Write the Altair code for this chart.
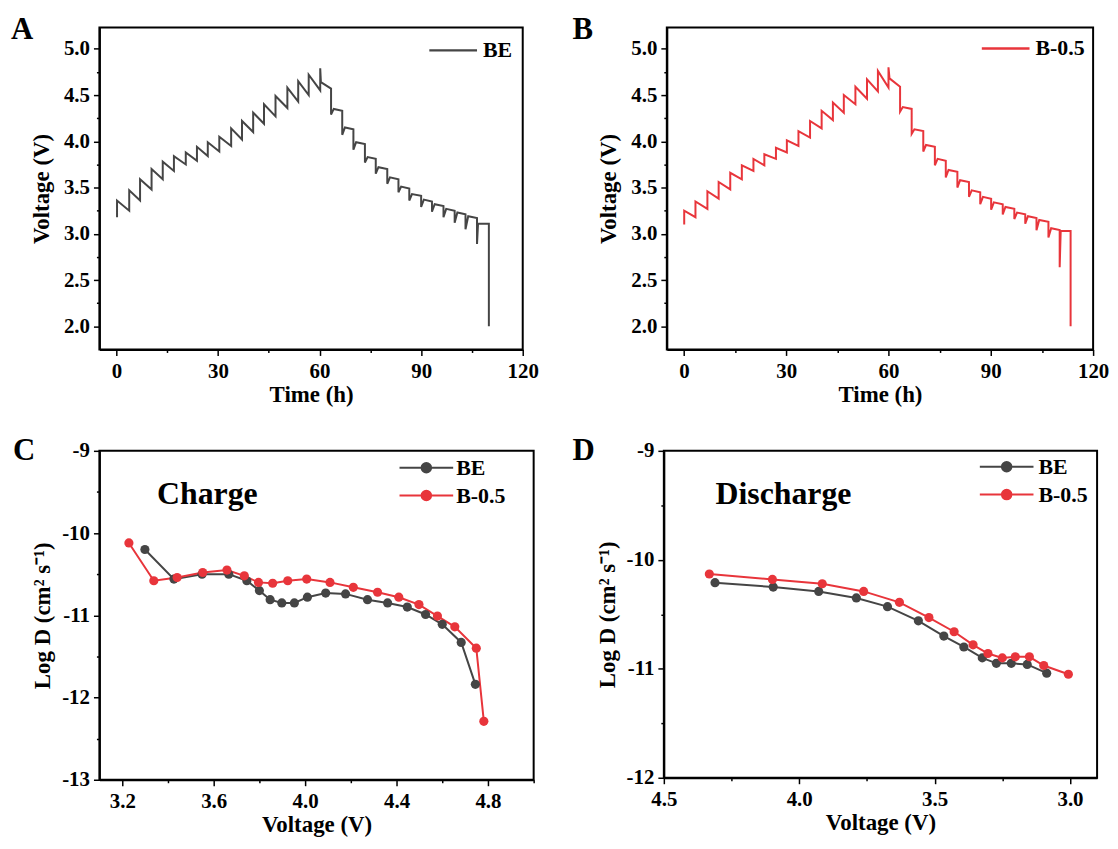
import altair as alt
import pandas as pd

# ---------------- data ----------------
SERIES = ["BE", "B-0.5"]

# Panel A (BE) GITT curve: charge pulses (time, voltage before jump, voltage after jump)
A_charge_t = [0.2, 3.8, 7.0, 10.4, 13.7, 17.0, 20.5, 23.8, 27.0, 30.4, 33.9, 37.1, 40.4, 43.6, 47.0, 50.5, 53.7, 56.8, 60.2]
A_charge_low = [3.18, 3.25, 3.36, 3.48, 3.59, 3.68, 3.75, 3.79, 3.84, 3.89, 3.95, 4.02, 4.10, 4.19, 4.27, 4.36, 4.43, 4.50, 4.55]
A_charge_high = [3.36, 3.47, 3.59, 3.70, 3.78, 3.84, 3.88, 3.94, 3.99, 4.05, 4.14, 4.22, 4.31, 4.40, 4.49, 4.58, 4.65, 4.72, 4.79]
A_rest_t = [60.4, 63.4]
A_rest_v = [4.64, 4.57]
# discharge pulses (time, voltage before drop, voltage after drop) and quick recovery points
A_dis_t = [63.4, 66.7, 70.0, 73.4, 76.6, 80.0, 83.3, 86.5, 90.0, 93.2, 96.6, 99.9, 103.1, 106.5, 110.0]
A_dis_high = [4.57, 4.33, 4.13, 3.97, 3.81, 3.70, 3.59, 3.49, 3.41, 3.35, 3.30, 3.25, 3.21, 3.17, 3.11]
A_dis_low = [4.29, 4.07, 3.91, 3.77, 3.65, 3.54, 3.45, 3.36, 3.29, 3.24, 3.18, 3.12, 3.05, 2.89, 2.00]
A_rec_t = [64.2, 67.5, 70.8, 74.2, 77.4, 80.8, 84.1, 87.3, 90.8, 94.0, 97.4, 100.7, 103.9, 106.8]
A_rec_v = [4.35, 4.15, 3.99, 3.83, 3.72, 3.61, 3.51, 3.43, 3.37, 3.32, 3.27, 3.23, 3.19, 3.11]

# Panel B (B-0.5)
B_charge_t = [0.1, 3.4, 6.9, 10.2, 13.6, 17.0, 20.4, 23.6, 27.0, 30.2, 33.6, 37.0, 40.4, 43.7, 46.9, 50.3, 53.7, 56.9, 60.0]
B_charge_low = [3.10, 3.18, 3.27, 3.38, 3.48, 3.59, 3.68, 3.74, 3.81, 3.88, 3.95, 4.04, 4.14, 4.23, 4.31, 4.40, 4.46, 4.54, 4.58]
B_charge_high = [3.25, 3.35, 3.46, 3.56, 3.66, 3.74, 3.81, 3.86, 3.93, 4.01, 4.11, 4.22, 4.33, 4.42, 4.50, 4.59, 4.67, 4.76, 4.80]
B_rest_t = [60.3, 63.4]
B_rest_v = [4.68, 4.59]
B_dis_t = [63.4, 66.8, 70.2, 73.6, 76.8, 80.2, 83.6, 86.9, 90.1, 93.5, 96.9, 100.1, 103.4, 106.9, 110.2, 113.4]
B_dis_high = [4.59, 4.35, 4.11, 3.94, 3.79, 3.67, 3.56, 3.45, 3.38, 3.32, 3.27, 3.21, 3.17, 3.13, 3.04, 3.03]
B_dis_low = [4.32, 4.08, 3.89, 3.74, 3.61, 3.50, 3.40, 3.32, 3.26, 3.21, 3.16, 3.11, 3.04, 2.96, 2.64, 2.00]
B_rec_t = [64.2, 67.6, 71.0, 74.4, 77.6, 81.0, 84.4, 87.7, 90.9, 94.3, 97.7, 100.9, 104.2, 107.7, 110.5]
B_rec_v = [4.37, 4.13, 3.96, 3.81, 3.69, 3.58, 3.47, 3.40, 3.34, 3.29, 3.23, 3.19, 3.15, 3.06, 3.03]

# Panel C (charge diffusion coefficients)
C_BE_v = [3.299, 3.426, 3.549, 3.666, 3.745, 3.800, 3.847, 3.898, 3.953, 4.010, 4.090, 4.177, 4.273, 4.361, 4.447, 4.527, 4.600, 4.683, 4.745]
C_BE_d = [-10.20, -10.56, -10.50, -10.50, -10.58, -10.70, -10.81, -10.85, -10.85, -10.78, -10.73, -10.74, -10.81, -10.85, -10.90, -10.99, -11.11, -11.33, -11.84]
C_B05_v = [3.229, 3.338, 3.440, 3.552, 3.658, 3.734, 3.796, 3.858, 3.924, 4.007, 4.109, 4.211, 4.317, 4.410, 4.498, 4.579, 4.655, 4.749, 4.782]
C_B05_d = [-10.12, -10.58, -10.54, -10.48, -10.45, -10.52, -10.60, -10.61, -10.58, -10.56, -10.60, -10.66, -10.72, -10.78, -10.87, -11.01, -11.14, -11.40, -12.29]

# Panel D (discharge diffusion coefficients)
D_BE_v = [4.311, 4.096, 3.928, 3.789, 3.674, 3.560, 3.466, 3.392, 3.324, 3.272, 3.217, 3.158, 3.086]
D_BE_d = [-10.21, -10.25, -10.29, -10.35, -10.43, -10.56, -10.70, -10.80, -10.90, -10.95, -10.95, -10.96, -11.04]
D_B05_v = [4.332, 4.099, 3.915, 3.762, 3.630, 3.521, 3.428, 3.358, 3.303, 3.250, 3.202, 3.150, 3.097, 3.006]
D_B05_d = [-10.13, -10.18, -10.22, -10.29, -10.39, -10.53, -10.66, -10.78, -10.86, -10.90, -10.89, -10.89, -10.97, -11.05]

# tick values
T_TICKS = [0, 15, 30, 45, 60, 75, 90, 105, 120]
T_MAJOR = [0, 30, 60, 90, 120]
V_TICKS = [2.0, 2.25, 2.5, 2.75, 3.0, 3.25, 3.5, 3.75, 4.0, 4.25, 4.5, 4.75, 5.0]
V_MAJOR = [2.0, 2.5, 3.0, 3.5, 4.0, 4.5, 5.0]
CX_TICKS = [3.2, 3.4, 3.6, 3.8, 4.0, 4.2, 4.4, 4.6, 4.8, 5.0]
CX_MAJOR = [3.2, 3.6, 4.0, 4.4, 4.8]
CY_TICKS = [-13, -12.5, -12, -11.5, -11, -10.5, -10, -9.5, -9]
CY_MAJOR = [-13, -12, -11, -10, -9]
DX_TICKS = [4.5, 4.25, 4.0, 3.75, 3.5, 3.25, 3.0]
DX_MAJOR = [4.5, 4.0, 3.5, 3.0]
DY_TICKS = [-12, -11.5, -11, -10.5, -10, -9.5, -9]
DY_MAJOR = [-12, -11, -10, -9]

# ---------------- style ----------------
GREY = "#454545"
RED = "#e8353b"
FONT = "Liberation Serif"
COLOR_SCALE = alt.Scale(domain=SERIES, range=[GREY, RED])
FILL_EXPR = f"datum.value === 'BE' ? '{GREY}' : '{RED}'"


def gitt_frame(ct, clow, chigh, rt, rv, dt, dhigh, dlow, rect, recv, name):
    t, v = [], []
    for a, lo, hi in zip(ct, clow, chigh):
        t += [a, a]
        v += [lo, hi]
    t += rt
    v += rv
    for k, (a, hi, lo) in enumerate(zip(dt, dhigh, dlow)):
        t += [a, a]
        v += [hi, lo]
        if k < len(rect):
            t.append(rect[k])
            v.append(recv[k])
    return pd.DataFrame({"t": t, "v": v, "series": name, "idx": list(range(len(t)))})


def points_frame(pairs):
    rows = []
    for name, xs, ys in pairs:
        for i, (a, b) in enumerate(zip(xs, ys)):
            rows.append({"x": a, "y": b, "series": name, "idx": i})
    return pd.DataFrame(rows)


def major_test(majors):
    return " || ".join(f"abs(datum.value - ({m})) < 1e-6" for m in majors)


def make_axis(values, majors, label, title, **kw):
    test = major_test(majors)
    return alt.Axis(
        values=values,
        labelExpr=f"({test}) ? {label} : ''",
        tickSize={"condition": {"test": test, "value": 6}, "value": 3},
        labelOverlap=False,
        labelFlush=False,
        title=title,
        **kw,
    )


def letter_layer(letter, dx, dy):
    return alt.Chart(pd.DataFrame({"lab": [letter]})).mark_text(
        font=FONT, fontWeight="bold", fontSize=31, align="left", baseline="alphabetic", color="black"
    ).encode(text="lab:N", x=alt.value(dx), y=alt.value(dy))


def note_layer(text, dx, dy):
    return alt.Chart(pd.DataFrame({"lab": [text]})).mark_text(
        font=FONT, fontWeight="bold", fontSize=32, align="left", baseline="alphabetic", color="black"
    ).encode(text="lab:N", x=alt.value(dx), y=alt.value(dy))


def line_legend(vals, lx, ly):
    return alt.Legend(
        title=None, values=vals, orient="none", legendX=lx, legendY=ly,
        symbolType="M-4,0L4,0", symbolSize=144, symbolStrokeWidth=2.5,
        labelFont=FONT, labelFontWeight="bold", labelFontSize=22, labelColor="black",
        labelOffset=19, padding=0,
    )


def ball_legend(lx, ly, loff):
    return alt.Legend(
        title=None, values=SERIES, orient="none", legendX=lx, legendY=ly,
        symbolType="M-4.5,0L4.5,0M-0.8,0A0.8,0.8,0,1,1,0.8,0A0.8,0.8,0,1,1,-0.8,0Z",
        symbolSize=144, symbolStrokeWidth=2,
        symbolFillColor={"expr": FILL_EXPR},
        labelFont=FONT, labelFontWeight="bold", labelFontSize=22, labelColor="black",
        labelOffset=loff, padding=0, rowPadding=6,
    )


X_TITLE_PAD = 2


def gitt_panel(df, letter, ldx, legend, w, h):
    line = alt.Chart(df).mark_line(strokeWidth=2).encode(
        x=alt.X("t:Q", scale=alt.Scale(domain=[-5, 120], nice=False, zero=False),
                axis=make_axis(T_TICKS, T_MAJOR, "format(datum.value, 'd')", "Time (h)",
                               titlePadding=X_TITLE_PAD, labelPadding=5)),
        y=alt.Y("v:Q", scale=alt.Scale(domain=[1.75, 5.23], nice=False, zero=False),
                axis=make_axis(V_TICKS, V_MAJOR, "format(datum.value, '.1f')", "Voltage (V)",
                               titlePadding=10, labelPadding=4)),
        color=alt.Color("series:N", scale=COLOR_SCALE, legend=legend),
        order="idx:Q",
    )
    return alt.layer(line, letter_layer(letter, ldx, 12)).properties(width=w, height=h)


def diff_panel(df, xdom, xt, xm, xfmt, ydom, yt, ym, letter, ldx, note, ndx, legend, w, h):
    enc = dict(
        x=alt.X("x:Q", scale=alt.Scale(domain=xdom, nice=False, zero=False),
                axis=make_axis(xt, xm, f"format(datum.value, '{xfmt}')", "Voltage (V)",
                               titlePadding=X_TITLE_PAD, labelPadding=5)),
        y=alt.Y("y:Q", scale=alt.Scale(domain=ydom, nice=False, zero=False),
                axis=make_axis(yt, ym, "'' + datum.value", "Log D (cm\u00b2 s\u207b\u00b9)",
                               titlePadding=7, labelPadding=4)),
        order="idx:Q",
    )
    line = alt.Chart(df).mark_line(strokeWidth=2).encode(
        color=alt.Color("series:N", scale=COLOR_SCALE, legend=legend), **enc)
    pts = alt.Chart(df).mark_point(filled=True, size=85, opacity=1).encode(
        color=alt.Color("series:N", scale=COLOR_SCALE, legend=None), **enc)
    return alt.layer(line, pts, note_layer(note, ndx, 54), letter_layer(letter, ldx, 9)).properties(width=w, height=h)


dfA = gitt_frame(A_charge_t, A_charge_low, A_charge_high, A_rest_t, A_rest_v,
                 A_dis_t, A_dis_high, A_dis_low, A_rec_t, A_rec_v, "BE")
dfB = gitt_frame(B_charge_t, B_charge_low, B_charge_high, B_rest_t, B_rest_v,
                 B_dis_t, B_dis_high, B_dis_low, B_rec_t, B_rec_v, "B-0.5")
dfC = points_frame([("BE", C_BE_v, C_BE_d), ("B-0.5", C_B05_v, C_B05_d)])
dfD = points_frame([("BE", D_BE_v, D_BE_d), ("B-0.5", D_B05_v, D_B05_d)])

pA = gitt_panel(dfA, "A", -89, line_legend(["BE"], 345, 12), 426, 324)
pB = gitt_panel(dfB, "B", -95, line_legend(["B-0.5"], 330, 10), 429, 324)
pC = diff_panel(dfC, [3.1, 5.0], CX_TICKS, CX_MAJOR, ".1f", [-13, -9], CY_TICKS, CY_MAJOR,
                "C", -87, "Charge", 58, ball_legend(318, 6, 19), 437, 331)
pD = diff_panel(dfD, [4.5, 2.9], DX_TICKS, DX_MAJOR, ".1f", [-12, -9], DY_TICKS, DY_MAJOR,
                "D", -92, "Discharge", 52, ball_legend(334, 5, 21), 436, 329)

row1 = alt.hconcat(pA, pB, spacing=32).resolve_legend(color="independent")
row2 = alt.hconcat(pC, pD, spacing=36).resolve_legend(color="independent")

chart = alt.vconcat(row1, row2, spacing=27).resolve_legend(color="independent").configure_view(
    stroke="black", strokeWidth=2
).configure_axis(
    domainColor="black", domainWidth=2, tickColor="black", tickWidth=1.5,
    labelFont=FONT, labelFontWeight="bold", labelFontSize=21, labelColor="black",
    titleFont=FONT, titleFontWeight="bold", titleFontSize=23, titleColor="black",
    grid=False,
).properties(background="white", padding={"left": 2, "top": 3, "right": 0, "bottom": 0})

chart.save("out.html", embed_options={"renderer": "svg", "actions": False})
